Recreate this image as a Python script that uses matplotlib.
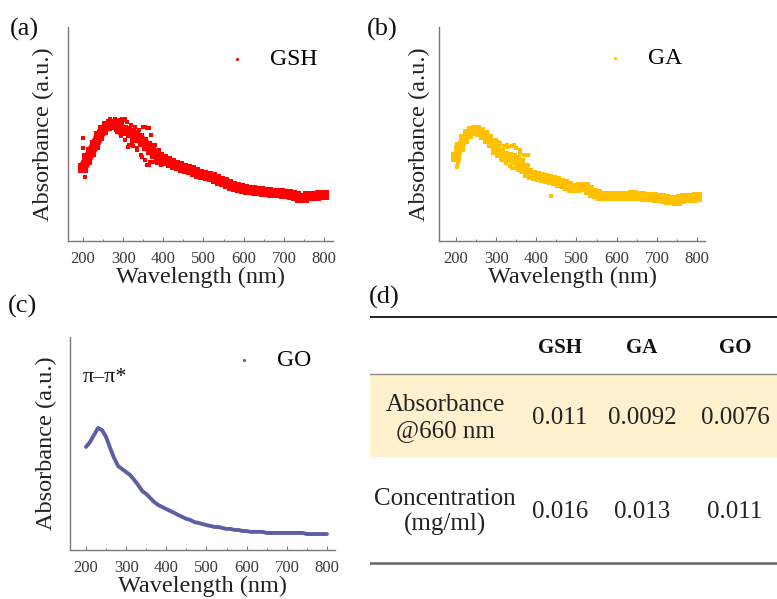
import numpy as np
import matplotlib
matplotlib.use("Agg")
import matplotlib.pyplot as plt
from matplotlib.ticker import MultipleLocator

plt.rcParams['font.family'] = ['Liberation Serif', 'DejaVu Serif']

# ---- spectra (arbitrary units, read every 10 nm) ----
wavelength = np.arange(200, 801, 10)

gsh_abs = [0.341, 0.379, 0.416, 0.449, 0.491, 0.519, 0.537, 0.547, 0.542, 0.533,
           0.519, 0.514, 0.505, 0.495, 0.481, 0.463, 0.444, 0.425, 0.407, 0.393,
           0.383, 0.374, 0.364, 0.355, 0.350, 0.341, 0.336, 0.332, 0.322, 0.313,
           0.308, 0.304, 0.299, 0.290, 0.280, 0.276, 0.266, 0.257, 0.252, 0.248,
           0.243, 0.238, 0.238, 0.234, 0.234, 0.229, 0.229, 0.224, 0.224, 0.224,
           0.220, 0.220, 0.215, 0.210, 0.201, 0.201, 0.210, 0.210, 0.210, 0.215,
           0.215]
# scattered cloud around the 280-390 nm shoulder
gsh_hi_x = [280, 290, 300, 310, 320, 330, 340, 350, 360, 370, 380, 390]
gsh_hi_y = [0.570, 0.565, 0.565, 0.556, 0.542, 0.533, 0.519, 0.533, 0.528, 0.495,
            0.449, 0.425]
gsh_lo_x = [285, 295, 305, 315, 325, 335, 345, 355, 365, 375, 385, 395]
gsh_lo_y = [0.509, 0.491, 0.472, 0.449, 0.444, 0.425, 0.402, 0.379, 0.355, 0.369,
            0.364, 0.355]
gsh_out_x = [200, 201, 203, 204, 267, 285, 297, 305, 312, 322, 334, 347, 354, 359,
             364, 367, 374]
gsh_out_y = [0.481, 0.435, 0.402, 0.299, 0.570, 0.565, 0.570, 0.570, 0.439, 0.463,
             0.435, 0.393, 0.533, 0.355, 0.528, 0.369, 0.449]

ga_abs = [0.393, 0.439, 0.477, 0.500, 0.514, 0.519, 0.509, 0.495, 0.477, 0.458,
          0.425, 0.411, 0.397, 0.393, 0.388, 0.379, 0.364, 0.341, 0.318, 0.308,
          0.304, 0.299, 0.294, 0.290, 0.285, 0.280, 0.271, 0.266, 0.257, 0.248,
          0.248, 0.252, 0.252, 0.238, 0.224, 0.220, 0.210, 0.210, 0.210, 0.210,
          0.210, 0.210, 0.210, 0.210, 0.215, 0.210, 0.210, 0.206, 0.206, 0.206,
          0.201, 0.201, 0.196, 0.192, 0.192, 0.187, 0.196, 0.201, 0.201, 0.201,
          0.206]
ga_hi_x = [300, 310, 320, 330, 340, 350, 360, 370, 380]
ga_hi_y = [0.472, 0.458, 0.444, 0.439, 0.444, 0.435, 0.425, 0.402, 0.355]
ga_lo_x = [305, 315, 325, 335, 345, 355, 365, 375, 385]
ga_lo_y = [0.402, 0.379, 0.364, 0.350, 0.341, 0.332, 0.322, 0.308, 0.294]
ga_out_x = [200, 202, 205, 305, 327, 339, 345, 359, 363, 379, 436]
ga_out_y = [0.439, 0.346, 0.364, 0.463, 0.449, 0.341, 0.449, 0.411, 0.332, 0.402,
            0.210]

go_abs = [0.484, 0.507, 0.540, 0.573, 0.563, 0.531, 0.479, 0.432, 0.394, 0.380,
          0.366, 0.352, 0.329, 0.305, 0.277, 0.263, 0.244, 0.225, 0.211, 0.202,
          0.192, 0.183, 0.174, 0.164, 0.155, 0.146, 0.141, 0.131, 0.127, 0.122,
          0.117, 0.113, 0.108, 0.108, 0.103, 0.099, 0.099, 0.094, 0.094, 0.089,
          0.089, 0.085, 0.085, 0.085, 0.085, 0.080, 0.080, 0.080, 0.080, 0.080,
          0.080, 0.080, 0.080, 0.080, 0.080, 0.075, 0.075, 0.075, 0.075, 0.075,
          0.075]

# ---- table (d) ----
samples = ['GSH', 'GA', 'GO']
row_labels = ['Absorbance\n@660 nm', 'Concentration\n(mg/ml)']
absorbance_660 = ['0.011', '0.0092', '0.0076']
concentration = ['0.016', '0.013', '0.011']

c_gsh = '#FF0000'
c_ga = '#FFC000'
c_go = '#5C5FA3'
tick_col = '#3a3a3a'
spine_col = '#7a7a7a'

W, H = 777, 599
fig = plt.figure(figsize=(W / 100, H / 100), dpi=100)


def px_axes(left, top, right, bottom):
    return fig.add_axes([left / W, 1 - bottom / H, (right - left) / W, (bottom - top) / H])


def style_axes(ax, xlim, pad):
    ax.set_xlim(*xlim)
    ax.set_ylim(0, 1)
    ax.set_yticks([])
    ax.xaxis.set_minor_locator(MultipleLocator(50))
    ax.set_xticks(range(200, 801, 100))
    ax.tick_params(axis='x', which='major', direction='in', length=3, width=0.8,
                   color=spine_col, labelsize=12, labelcolor=tick_col, pad=7)
    ax.tick_params(axis='x', which='minor', direction='in', length=1.8, width=0.8,
                   color=spine_col)
    for s in ['top', 'right']:
        ax.spines[s].set_visible(False)
    for s in ['left', 'bottom']:
        ax.spines[s].set_color(spine_col)
        ax.spines[s].set_linewidth(1.0)
    ax.set_xlabel('Wavelength (nm)', fontsize=17.5, color='#222222', labelpad=0)
    ax.set_ylabel('Absorbance (a.u.)', fontsize=17.5, color='#222222', labelpad=pad)


def add_legend(ax, label, color, x, y):
    h = ax.scatter([], [], s=5, color=color, marker='o', linewidths=0, label=label)
    ax.legend(handles=[h], loc='center left', bbox_to_anchor=(x, y), frameon=False,
              fontsize=17, handlelength=1.0, handletextpad=0.9, borderpad=0,
              borderaxespad=0)


def draw_cloud(ax, y, hx, hy, lx, ly, ox, oy, color, lw, s):
    ax.plot(wavelength, y, color=color, lw=lw, solid_capstyle='round')
    ax.scatter(wavelength, y, s=s, color=color, marker='s', linewidths=0)
    ax.scatter(hx, hy, s=10, color=color, marker='s', linewidths=0)
    ax.scatter(lx, ly, s=10, color=color, marker='s', linewidths=0)
    ax.scatter(ox, oy, s=7, color=color, marker='s', linewidths=0)


# (a) GSH
ax_a = px_axes(68, 27, 333, 241)
draw_cloud(ax_a, gsh_abs, gsh_hi_x, gsh_hi_y, gsh_lo_x, gsh_lo_y,
           gsh_out_x, gsh_out_y, c_gsh, 7.0, 55)
style_axes(ax_a, (162.7, 822.4), 10)
add_legend(ax_a, 'GSH', c_gsh, 0.592, 0.850)

# (b) GA
ax_b = px_axes(439, 27, 705, 241)
draw_cloud(ax_b, ga_abs, ga_hi_x, ga_hi_y, ga_lo_x, ga_lo_y,
           ga_out_x, ga_out_y, c_ga, 6.0, 45)
style_axes(ax_b, (157.7, 819.9), 6.5)
add_legend(ax_b, 'GA', c_ga, 0.617, 0.855)

# (c) GO
ax_c = px_axes(70, 337, 335, 550)
ax_c.plot(wavelength, go_abs, color=c_go, lw=2.8, solid_capstyle='round')
style_axes(ax_c, (160.2, 819.9), 9)
add_legend(ax_c, 'GO', c_go, 0.611, 0.892)
ax_c.text(247, 0.808, 'π–π*', fontsize=16, ha='center', va='center', color='#111111')

# (d) table
ax_d = px_axes(370, 290, 777, 599)
ax_d.set_xlim(370, 777)
ax_d.set_ylim(599, 290)
ax_d.axis('off')
ax_d.axhspan(374, 457, color='#FFF0CE', lw=0)
ax_d.axhline(317, color='#111111', lw=1.3)
ax_d.axhline(374, color='#888888', lw=1.0)
ax_d.axhline(563, color='#666666', lw=1.8)

col_x = [560, 642, 735]
for cx, name in zip(col_x, samples):
    ax_d.text(cx, 348, name, fontsize=15, fontweight='bold', ha='center', va='center',
              color='#111111')
for cx, val in zip(col_x, absorbance_660):
    ax_d.text(cx, 418, val, fontsize=18, ha='center', va='center', color='#222222')
for cx, val in zip(col_x, concentration):
    ax_d.text(cx, 512, val, fontsize=18, ha='center', va='center', color='#222222')
ax_d.text(445, 418, row_labels[0], fontsize=18, ha='center', va='center',
          linespacing=1.2, color='#222222')
ax_d.text(445, 512, row_labels[1], fontsize=18, ha='center', va='center',
          linespacing=1.2, color='#222222')

# panel letters
for label, x, y in [('(a)', 10, 36), ('(b)', 367, 36), ('(c)', 8, 313), ('(d)', 369, 304)]:
    fig.text(x / W, 1 - y / H, label, fontsize=19, ha='left', va='baseline',
             color='#111111')

fig.savefig('out.png', dpi=100)
